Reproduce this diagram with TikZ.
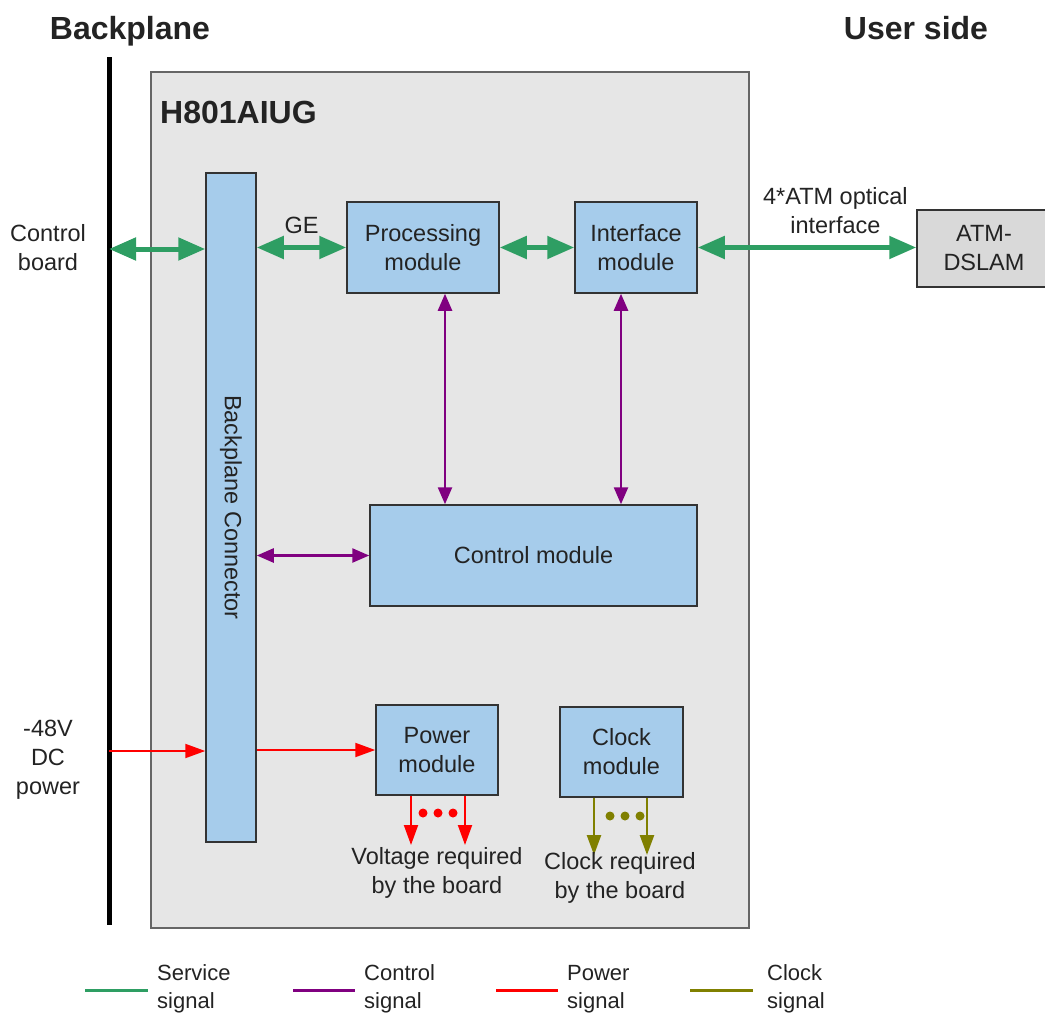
\documentclass[tikz,border=0pt]{standalone}
\usepackage{fontspec}
\setmainfont{Liberation Sans}
\usetikzlibrary{arrows.meta}
\definecolor{sigGreen}{RGB}{46,158,99}
\definecolor{sigPurple}{RGB}{128,0,128}
\definecolor{sigRed}{RGB}{255,0,0}
\definecolor{sigOlive}{RGB}{128,128,0}
\definecolor{modBlue}{RGB}{166,204,235}
\definecolor{boardGray}{RGB}{230,230,230}
\definecolor{dslamGray}{RGB}{217,217,217}
\definecolor{txtGray}{RGB}{35,35,35}

\begin{document}
\begin{tikzpicture}[x=1pt,y=-1pt,
    font=\fontsize{23.5}{29}\selectfont, text=txtGray,
    title/.style={font=\fontsize{32}{34}\selectfont\bfseries},
    module/.style={draw=black!80, line width=1.5pt, fill=modBlue, align=center, inner sep=0pt},
    service/.style={draw=sigGreen, line width=5pt, >={Triangle[length=27pt,width=22pt]}, <->},
    control/.style={draw=sigPurple, line width=2.5pt, >={Triangle[length=17pt,width=14pt]}, <->},
    power/.style={draw=sigRed, line width=2pt, >={Triangle[length=20pt,width=14pt]}, ->},
    clock/.style={draw=sigOlive, line width=2.5pt, >={Triangle[length=20pt,width=14pt]}, ->}]
    \useasboundingbox (0,0) rectangle (1045,1015);

    % Titles
    \node[title] (bptitle) at (130,31) {Backplane};
    \node[title] (ustitle) at (916,28) {User side};

    % Backplane
    \coordinate (bptop) at (109,57);
    \coordinate (bpbot) at (109,925);
    \draw[line width=5pt] (bptop) -- (bpbot);

    % Board
    \draw[draw=black!60, line width=2pt, fill=boardGray] (151,72) rectangle (749,928);
    \node[title, anchor=west, inner sep=0pt] (board) at (160,112) {H801AIUG};

    % Modules
    \node[module, minimum width=50, minimum height=669] (conn) at (231,507.5) {};
    \node[rotate=-90] (connlbl) at (conn.center) {Backplane Connector};
    \node[module, minimum width=152, minimum height=91] (proc) at (423,247.5) {Processing\\module};
    \node[module, minimum width=122, minimum height=91] (intf) at (636,247.5) {Interface\\module};
    \node[module, minimum width=327, minimum height=101] (ctrl) at (533.5,555.5) {Control module};
    \node[module, minimum width=122, minimum height=90] (pwr) at (437,750) {Power\\module};
    \node[module, minimum width=123, minimum height=90] (clk) at (621.5,752) {Clock\\module};
    \node[draw=black!80, line width=1.5pt, fill=dslamGray, align=center, inner sep=0pt,
          minimum width=134, minimum height=77] (dslam) at (984,248.5) {ATM-\\DSLAM};

    % Outside labels
    \node[align=center] (cblbl) at (48,248) {Control\\board};
    \node[align=center] (pwlbl) at (48,760) {-48V\\DC\\power};

    % Service signal
    \coordinate (cb) at (109,249);
    \draw[service] (cb) -- (conn.west |- cb);
    \draw[service] (conn.east |- proc.west) -- (proc.west) node[midway, above=8pt] {GE};
    \draw[service] (proc.east) -- (intf.west);
    \draw[service] (intf.east) -- (intf.east -| dslam.west)
        node[pos=0.63, above=8pt, align=center] {4*ATM optical\\interface};

    % Control signal
    \draw[control] ([xshift=22pt]proc.south) -- ([xshift=22pt]proc.south |- ctrl.north);
    \draw[control] ([xshift=-15pt]intf.south) -- ([xshift=-15pt]intf.south |- ctrl.north);
    \draw[control] (conn.east |- ctrl.west) -- (ctrl.west);

    % Power signal
    \coordinate (pw) at (109,751);
    \draw[power] (pw) -- (conn.west |- pw);
    \draw[power] (conn.east |- pwr.west) -- (pwr.west);
    \coordinate (vout) at (437,845);
    \draw[power] ([xshift=-26pt]pwr.south) -- ([xshift=-26pt]pwr.south |- vout);
    \draw[power] ([xshift=28pt]pwr.south) -- ([xshift=28pt]pwr.south |- vout);
    \foreach \x in {423,438,453}
        \fill[sigRed] (\x,813) circle (4.5);
    \node[align=center] (vlbl) at (437,873) {Voltage required\\by the board};

    % Clock signal
    \coordinate (cout) at (620,855);
    \draw[clock] ([xshift=-27.5pt]clk.south) -- ([xshift=-27.5pt]clk.south |- cout);
    \draw[clock] ([xshift=25.5pt]clk.south) -- ([xshift=25.5pt]clk.south |- cout);
    \foreach \x in {610,625,640}
        \fill[sigOlive] (\x,816) circle (4.5);
    \node[align=center] (clbl) at (620,878) {Clock required\\by the board};

    % Legend
    \foreach \c/\xa/\xb/\xt/\txt in {sigGreen/85/148/157/Service, sigPurple/293/355/364/Control,
                                     sigRed/496/558/567/Power, sigOlive/690/753/767/Clock} {
        \draw[\c, line width=3pt] (\xa,990) -- (\xb,990);
        \node[anchor=west, align=left, inner sep=0pt, font=\fontsize{22}{28}\selectfont] at (\xt,989) {\txt\\signal};
    }
\end{tikzpicture}
\end{document}
